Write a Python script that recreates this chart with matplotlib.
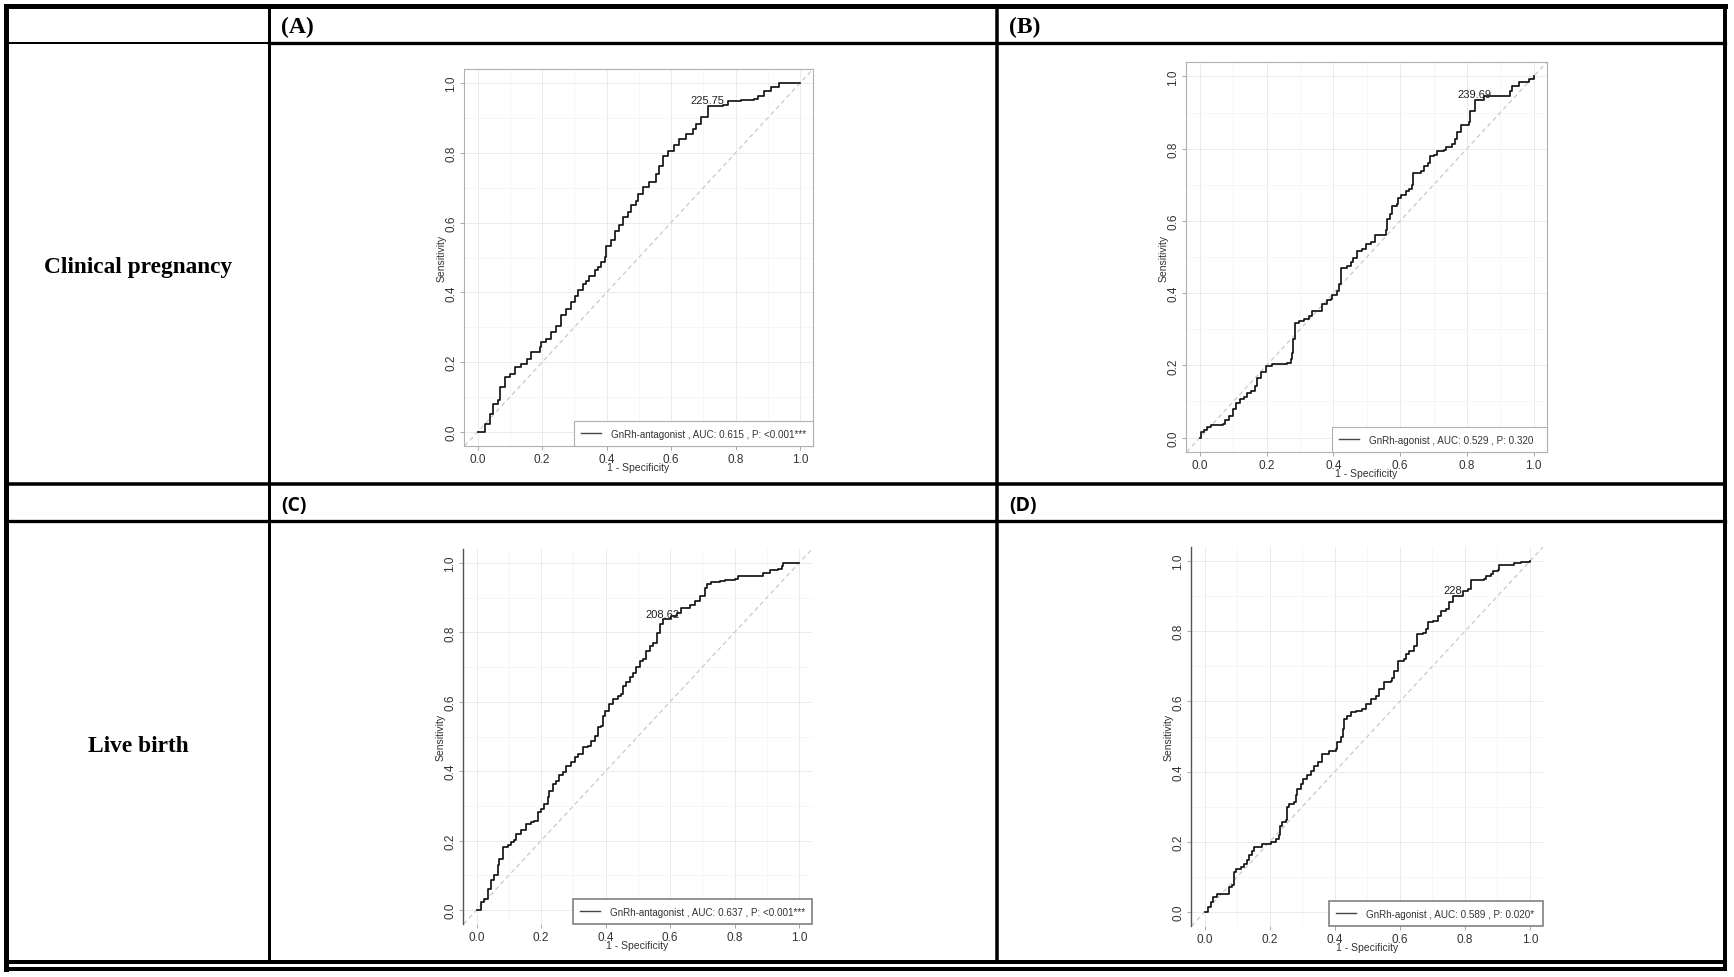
import numpy as np
import matplotlib.pyplot as plt

plt.rcParams['font.family'] = ['Liberation Sans', 'DejaVu Sans']

# ---- data (1 - specificity, sensitivity) ----
fpr_a = [0.000, 0.023, 0.038, 0.048, 0.064, 0.071, 0.085, 0.100, 0.115, 0.136, 0.152, 0.167,
         0.193, 0.198, 0.213, 0.229, 0.244, 0.260, 0.275, 0.291, 0.301, 0.311, 0.327, 0.337,
         0.347, 0.363, 0.373, 0.384, 0.394, 0.399, 0.414, 0.425, 0.440, 0.451, 0.466, 0.476,
         0.492, 0.497, 0.512, 0.533, 0.554, 0.564, 0.574, 0.590, 0.610, 0.626, 0.646, 0.667,
         0.677, 0.693, 0.713, 0.760, 0.775, 0.816, 0.858, 0.868, 0.889, 0.909, 0.935, 1.000]
tpr_a = [0.000, 0.024, 0.052, 0.081, 0.091, 0.129, 0.157, 0.167, 0.186, 0.196, 0.210, 0.229,
         0.243, 0.258, 0.267, 0.286, 0.305, 0.334, 0.353, 0.372, 0.391, 0.406, 0.425, 0.434,
         0.448, 0.463, 0.472, 0.487, 0.501, 0.534, 0.549, 0.577, 0.592, 0.615, 0.630, 0.649,
         0.663, 0.682, 0.701, 0.716, 0.740, 0.763, 0.792, 0.806, 0.821, 0.840, 0.854, 0.868,
         0.883, 0.902, 0.935, 0.937, 0.947, 0.952, 0.954, 0.964, 0.978, 0.988, 0.999, 1.000]

fpr_b = [0.000, 0.003, 0.013, 0.021, 0.033, 0.068, 0.075, 0.088, 0.098, 0.108, 0.121, 0.133,
         0.141, 0.153, 0.165, 0.172, 0.182, 0.197, 0.217, 0.262, 0.272, 0.277, 0.280, 0.284,
         0.297, 0.312, 0.327, 0.337, 0.362, 0.367, 0.380, 0.392, 0.397, 0.410, 0.418, 0.422,
         0.442, 0.452, 0.460, 0.470, 0.487, 0.497, 0.511, 0.524, 0.551, 0.556, 0.561, 0.569,
         0.576, 0.589, 0.593, 0.601, 0.616, 0.626, 0.636, 0.639, 0.661, 0.671, 0.683, 0.689,
         0.701, 0.711, 0.731, 0.736, 0.756, 0.763, 0.771, 0.781, 0.806, 0.808, 0.821, 0.823,
         0.845, 0.850, 0.920, 0.928, 0.935, 0.950, 0.955, 0.970, 0.985, 1.000]
tpr_b = [0.000, 0.016, 0.021, 0.030, 0.036, 0.037, 0.049, 0.060, 0.078, 0.097, 0.106, 0.111,
         0.124, 0.130, 0.143, 0.166, 0.182, 0.198, 0.204, 0.207, 0.218, 0.235, 0.272, 0.316,
         0.323, 0.329, 0.336, 0.350, 0.350, 0.369, 0.381, 0.384, 0.396, 0.406, 0.424, 0.470,
         0.475, 0.486, 0.498, 0.516, 0.523, 0.535, 0.541, 0.562, 0.562, 0.576, 0.604, 0.618,
         0.641, 0.648, 0.664, 0.673, 0.682, 0.688, 0.700, 0.733, 0.737, 0.751, 0.760, 0.779,
         0.783, 0.793, 0.797, 0.806, 0.814, 0.827, 0.845, 0.866, 0.873, 0.905, 0.905, 0.935,
         0.935, 0.947, 0.947, 0.961, 0.974, 0.974, 0.984, 0.986, 0.993, 1.000]

fpr_c = [0.000, 0.013, 0.024, 0.034, 0.045, 0.055, 0.065, 0.070, 0.081, 0.096, 0.107, 0.117,
         0.122, 0.138, 0.153, 0.169, 0.179, 0.190, 0.200, 0.210, 0.221, 0.226, 0.236, 0.247,
         0.257, 0.267, 0.278, 0.293, 0.304, 0.314, 0.330, 0.345, 0.355, 0.366, 0.376, 0.387,
         0.392, 0.397, 0.412, 0.423, 0.438, 0.449, 0.454, 0.464, 0.475, 0.485, 0.495, 0.506,
         0.516, 0.526, 0.537, 0.547, 0.558, 0.568, 0.578, 0.604, 0.620, 0.635, 0.661, 0.677,
         0.692, 0.708, 0.713, 0.728, 0.754, 0.770, 0.801, 0.811, 0.879, 0.889, 0.910, 0.936,
         0.946, 0.951, 1.000]
tpr_c = [0.000, 0.024, 0.033, 0.062, 0.086, 0.100, 0.129, 0.148, 0.182, 0.187, 0.196, 0.201,
         0.220, 0.230, 0.249, 0.254, 0.258, 0.282, 0.292, 0.306, 0.325, 0.344, 0.364, 0.373,
         0.388, 0.397, 0.416, 0.426, 0.440, 0.450, 0.469, 0.474, 0.488, 0.502, 0.526, 0.531,
         0.560, 0.574, 0.593, 0.608, 0.617, 0.622, 0.646, 0.656, 0.670, 0.684, 0.699, 0.718,
         0.722, 0.746, 0.761, 0.770, 0.799, 0.823, 0.837, 0.847, 0.856, 0.871, 0.880, 0.890,
         0.904, 0.928, 0.938, 0.944, 0.947, 0.952, 0.954, 0.962, 0.962, 0.971, 0.979, 0.983,
         0.990, 1.000, 1.000]

fpr_d = [0.000, 0.010, 0.018, 0.027, 0.039, 0.070, 0.075, 0.085, 0.090, 0.095, 0.111, 0.121,
         0.131, 0.136, 0.147, 0.152, 0.172, 0.177, 0.203, 0.218, 0.229, 0.232, 0.239, 0.249,
         0.254, 0.259, 0.275, 0.280, 0.285, 0.295, 0.301, 0.316, 0.326, 0.336, 0.347, 0.362,
         0.383, 0.403, 0.408, 0.418, 0.424, 0.429, 0.439, 0.449, 0.465, 0.485, 0.495, 0.511,
         0.526, 0.536, 0.552, 0.572, 0.577, 0.583, 0.593, 0.613, 0.618, 0.629, 0.644, 0.654,
         0.670, 0.680, 0.685, 0.701, 0.716, 0.726, 0.742, 0.752, 0.762, 0.788, 0.793, 0.808,
         0.818, 0.859, 0.865, 0.880, 0.885, 0.901, 0.906, 0.952, 0.972, 1.000]
tpr_d = [0.000, 0.014, 0.028, 0.043, 0.052, 0.052, 0.071, 0.076, 0.114, 0.123, 0.128, 0.137,
         0.147, 0.161, 0.175, 0.185, 0.185, 0.194, 0.199, 0.209, 0.218, 0.246, 0.256, 0.261,
         0.299, 0.308, 0.313, 0.332, 0.351, 0.365, 0.379, 0.389, 0.403, 0.417, 0.427, 0.450,
         0.460, 0.464, 0.483, 0.498, 0.521, 0.550, 0.559, 0.569, 0.573, 0.578, 0.592, 0.607,
         0.616, 0.635, 0.654, 0.659, 0.668, 0.687, 0.716, 0.720, 0.735, 0.744, 0.758, 0.791,
         0.796, 0.806, 0.825, 0.829, 0.844, 0.858, 0.863, 0.882, 0.900, 0.900, 0.915, 0.919,
         0.946, 0.948, 0.957, 0.962, 0.972, 0.974, 0.990, 0.995, 0.997, 1.000]

legend_labels = ['GnRh-antagonist , AUC: 0.615 , P: <0.001***',
                 'GnRh-agonist , AUC: 0.529 , P: 0.320',
                 'GnRh-antagonist , AUC: 0.637 , P: <0.001***',
                 'GnRh-agonist , AUC: 0.589 , P: 0.020*']
cutoff_labels = ['225.75', '239.69', '208.62', '228']
cutoff_x = [0.713, 0.823, 0.578, 0.762]
cutoff_y = [0.935, 0.935, 0.837, 0.900]
panel_tags = ['(A)', '(B)', '(C)', '(D)']
row_labels = ['Clinical pregnancy', 'Live birth']

W, H = 1734, 978
fig = plt.figure(figsize=(W / 100, H / 100), dpi=100)

# table grid drawn in pixel coordinates on a full-figure axes
tab = fig.add_axes([0, 0, 1, 1])
tab.set_xlim(0, W)
tab.set_ylim(H, 0)
tab.axis('off')


def line(x0, y0, x1, y1, px):
    tab.plot([x0, x1], [y0, y1], color='black', lw=px * 0.72, solid_capstyle='projecting')


line(6, 7, 1725, 7, 5)        # top
line(6, 7, 6, 970, 5)         # left
line(1725, 7, 1725, 970, 4)   # right
line(6, 963, 1725, 963, 4)    # bottom (double rule)
line(6, 970, 1725, 970, 4)
line(269, 7, 269, 963, 3)
line(997, 7, 997, 963, 3.5)
line(6, 43.5, 269, 43.5, 2)
line(269, 44, 1725, 44, 3.3)
line(6, 485, 1725, 485, 3.5)
line(6, 522, 1725, 522, 3.3)

serif = ['Liberation Serif', 'DejaVu Serif']
sans_bold = ['Open Sans', 'Liberation Sans']
tab.text(138, 267, row_labels[0], family=serif, weight='bold', size=16.8, ha='center', va='center')
tab.text(138, 746, row_labels[1], family=serif, weight='bold', size=16.8, ha='center', va='center')
tab.text(281, 27, panel_tags[0], family=serif, weight='bold', size=17, ha='left', va='center')
tab.text(1009, 27, panel_tags[1], family=serif, weight='bold', size=17, ha='left', va='center')
tab.text(281, 506, panel_tags[2], family=sans_bold, weight='bold', size=14, ha='left', va='center')
tab.text(1009, 506, panel_tags[3], family=sans_bold, weight='bold', size=14, ha='left', va='center')

# axes rectangles in pixels: left, top, right, bottom
boxes = [(464, 70, 813, 447), (1186, 63, 1547, 453),
         (463, 550, 812, 925), (1191, 548, 1543, 927)]
legend_left = [0.315, 0.404, 0.315, 0.392]
curves = [(fpr_a, tpr_a), (fpr_b, tpr_b), (fpr_c, tpr_c), (fpr_d, tpr_d)]

for i, (l, t, r, b) in enumerate(boxes):
    ax = fig.add_axes([l / W, 1 - b / H, (r - l) / W, (b - t) / H])
    ax.set_xlim(-0.042, 1.04)
    ax.set_ylim(-0.04, 1.04)
    ticks = np.arange(0, 1.01, 0.2)
    ax.set_xticks(ticks)
    ax.set_yticks(ticks)
    ax.set_xticks(np.arange(0.1, 1.0, 0.2), minor=True)
    ax.set_yticks(np.arange(0.1, 1.0, 0.2), minor=True)
    ax.set_xticklabels([f'{v:.1f}' for v in ticks])
    ax.set_yticklabels([f'{v:.1f}' for v in ticks])
    ax.grid(which='major', color='#ebebeb', lw=0.7)
    ax.grid(which='minor', color='#f5f5f5', lw=0.6)
    ax.set_axisbelow(True)
    ax.tick_params(which='minor', length=0)
    ax.tick_params(which='major', labelsize=8.5, length=3, width=0.6, color='#999999',
                   labelcolor='#333333', pad=2)
    ax.tick_params(axis='y', labelrotation=90)
    for lab in ax.get_yticklabels():
        lab.set_va('center')

    ax.axline((0, 0), (1, 1), ls=(0, (4, 3)), color='#c4c4c4', lw=0.8, zorder=1)
    fpr, tpr = curves[i]
    ax.plot(fpr, tpr, drawstyle='steps-post', color='#151515', lw=1.25,
            label=legend_labels[i], zorder=3)
    ax.annotate(cutoff_labels[i], (cutoff_x[i], cutoff_y[i]), xytext=(0, 0.5),
                textcoords='offset points', ha='center', va='bottom', fontsize=8,
                color='#222222')

    ax.set_xlabel('1 - Specificity', fontsize=7.5, labelpad=-2, color='#333333')
    ax.set_ylabel('Sensitivity', fontsize=7.5, labelpad=-1, color='#333333')

    x0 = legend_left[i]
    leg = ax.legend(loc='lower left', bbox_to_anchor=(x0, 0, 1 - x0, 0.07), mode='expand',
                    borderaxespad=0, fontsize=7.1, handlelength=2.0, handletextpad=1.0,
                    borderpad=0.75, fancybox=False, framealpha=1, labelcolor='#333333')
    frame = leg.get_frame()
    if i < 2:
        for s in ax.spines.values():
            s.set_color('#b0b0b0')
            s.set_linewidth(0.8)
        frame.set_edgecolor('#b0b0b0')
        frame.set_linewidth(0.8)
    else:
        for name in ['top', 'right', 'bottom']:
            ax.spines[name].set_visible(False)
        ax.spines['left'].set_color('#555555')
        ax.spines['left'].set_linewidth(1.0)
        frame.set_edgecolor('#808080')
        frame.set_linewidth(1.2)
    for h in leg.legend_handles:
        h.set_color('#444444')
        h.set_linewidth(1.0)

fig.savefig('out.png', dpi=100)
